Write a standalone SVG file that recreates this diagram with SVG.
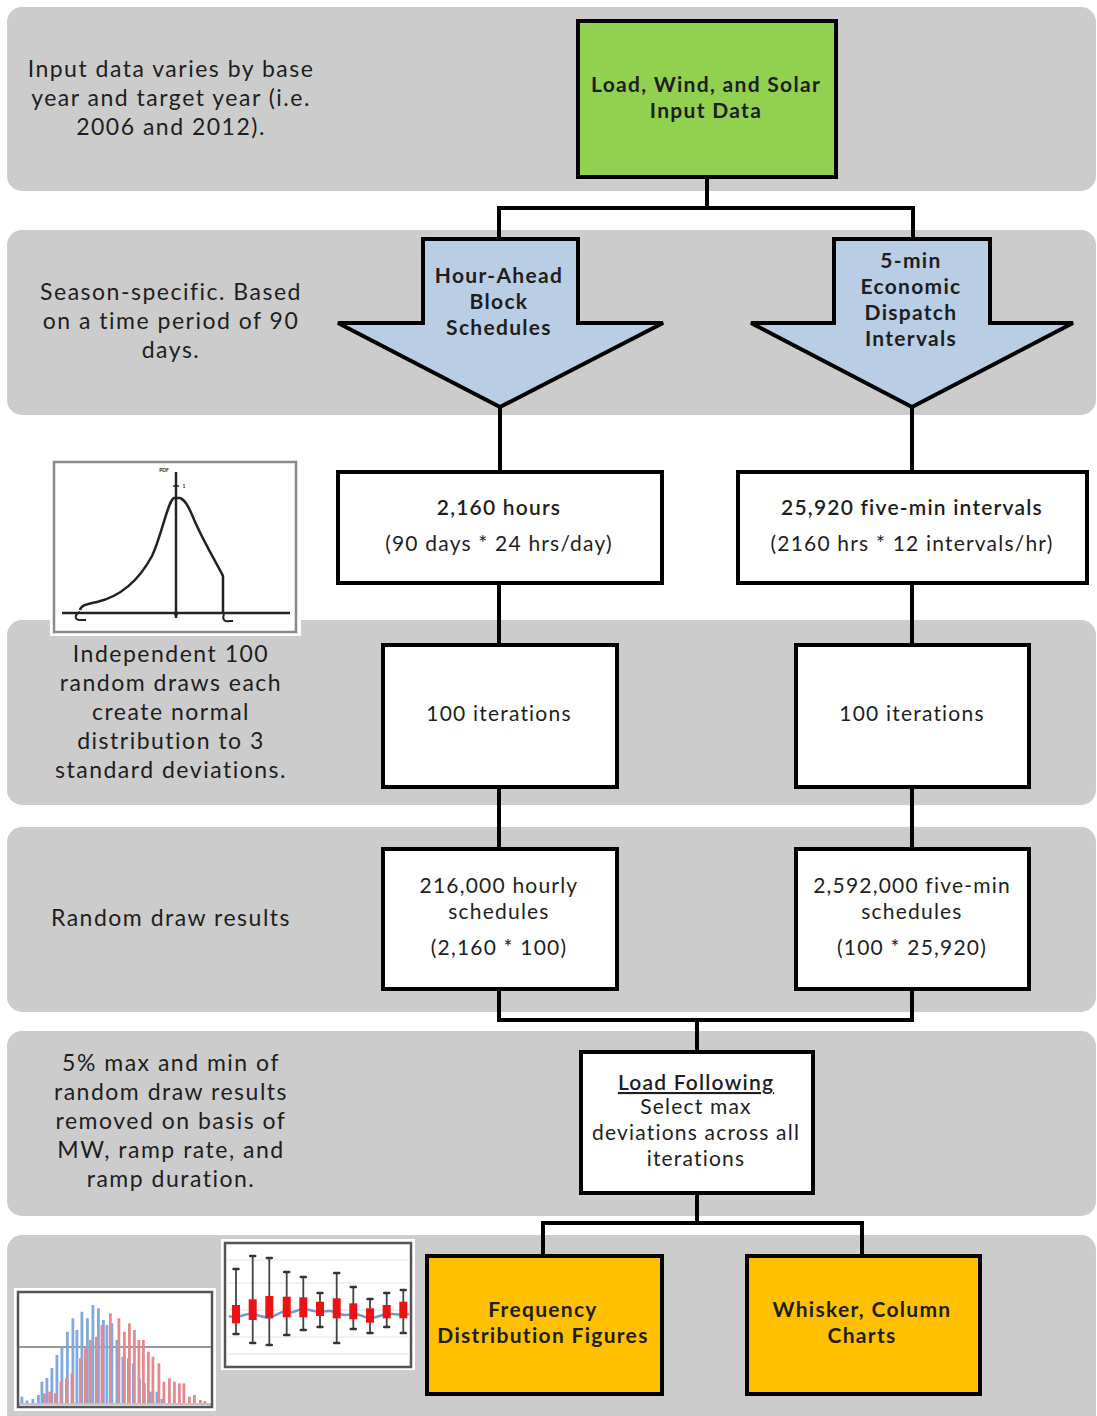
<svg xmlns="http://www.w3.org/2000/svg" width="1097" height="1416" viewBox="0 0 1097 1416">
<style>
.band{fill:#cccccc}
.box{stroke:#000;stroke-width:4;stroke-linejoin:miter}
.w{fill:#fff}
.g{fill:#92d050}
.o{fill:#ffc000}
.b{fill:#b9cde5}
.conn{fill:none;stroke:#000;stroke-width:4}
text{font-family:Lato,"Open Sans","Liberation Sans",sans-serif;fill:#1e1e1e;text-anchor:middle}
.side{font-size:23px;letter-spacing:1.5px}
.bt{font-size:21px;font-weight:bold;letter-spacing:1.3px}
.nt{font-size:21px;letter-spacing:1.2px}
.sb{font-size:21px;font-weight:600;letter-spacing:1.2px}
</style>
<rect width="1097" height="1416" fill="#fff"/>
<g id="bands">
<rect class="band" x="7" y="7" width="1089" height="184" rx="15"/>
<rect class="band" x="7" y="230" width="1089" height="185" rx="15"/>
<rect class="band" x="7" y="620" width="1089" height="185" rx="15"/>
<rect class="band" x="7" y="827" width="1089" height="185" rx="15"/>
<rect class="band" x="7" y="1031" width="1089" height="185" rx="15"/>
<rect class="band" x="7" y="1235" width="1089" height="200" rx="15"/>
</g>
<g id="side-notes">
<text class="side" x="171" y="77">Input data varies by base</text>
<text class="side" x="171" y="106">year and target year (i.e.</text>
<text class="side" x="171" y="135">2006 and 2012).</text>
<text class="side" x="171" y="300">Season-specific. Based</text>
<text class="side" x="171" y="329">on a time period of 90</text>
<text class="side" x="171" y="358">days.</text>
<text class="side" x="171" y="662">Independent 100</text>
<text class="side" x="171" y="691">random draws each</text>
<text class="side" x="171" y="720">create normal</text>
<text class="side" x="171" y="749">distribution to 3</text>
<text class="side" x="171" y="778">standard deviations.</text>
<text class="side" x="171" y="926">Random draw results</text>
<text class="side" x="171" y="1071">5% max and min of</text>
<text class="side" x="171" y="1100">random draw results</text>
<text class="side" x="171" y="1129">removed on basis of</text>
<text class="side" x="171" y="1158">MW, ramp rate, and</text>
<text class="side" x="171" y="1187">ramp duration.</text>
</g>
<g id="connectors">
<path class="conn" d="M707,177 V208 M497,208 H915 M499,206 V240 M913,206 V240"/>
<path class="conn" d="M500,405 V472 M912,405 V472"/>
<path class="conn" d="M499,583 V645 M912,583 V645"/>
<path class="conn" d="M499,787 V849 M912,787 V849"/>
<path class="conn" d="M499,989 V1020 H912 V989 M697,1020 V1052"/>
<path class="conn" d="M697,1193 V1223 M541,1223 H864 M543,1221 V1255 M862,1221 V1255"/>
</g>
<g id="input-data">
<rect class="box g" x="578" y="21" width="258" height="156"/>
<text class="bt" x="706" y="92">Load, Wind, and Solar</text>
<text class="bt" x="706" y="118">Input Data</text>
</g>
<g id="hour-ahead">
<polygon class="box b" points="423,239 578,239 578,323 663,323 500,407 338,323 423,323"/>
<text class="bt" x="499" y="283">Hour-Ahead</text>
<text class="bt" x="499" y="309">Block</text>
<text class="bt" x="499" y="335">Schedules</text>
</g>
<g id="five-min">
<polygon class="box b" points="834,239 990,239 990,323 1073,323 912,407 751,323 834,323"/>
<text class="bt" x="911" y="268">5-min</text>
<text class="bt" x="911" y="294">Economic</text>
<text class="bt" x="911" y="320">Dispatch</text>
<text class="bt" x="911" y="346">Intervals</text>
</g>
<g id="hours-box">
<rect class="box w" x="338" y="472" width="324" height="111"/>
<text class="sb" x="499" y="515">2,160 hours</text>
<text class="nt" x="499" y="551">(90 days *  24 hrs/day)</text>
</g>
<g id="intervals-box">
<rect class="box w" x="738" y="472" width="349" height="111"/>
<text class="sb" x="912" y="515">25,920 five-min intervals</text>
<text class="nt" x="912" y="551">(2160 hrs *  12 intervals/hr)</text>
</g>
<g id="iter-left">
<rect class="box w" x="383" y="645" width="234" height="142"/>
<text class="nt" x="499" y="721">100 iterations</text>
</g>
<g id="iter-right">
<rect class="box w" x="796" y="645" width="233" height="142"/>
<text class="nt" x="912" y="721">100 iterations</text>
</g>
<g id="hourly-results">
<rect class="box w" x="383" y="849" width="234" height="140"/>
<text class="nt" x="499" y="893">216,000 hourly</text>
<text class="nt" x="499" y="919">schedules</text>
<text class="nt" x="499" y="955">(2,160 * 100)</text>
</g>
<g id="fivemin-results">
<rect class="box w" x="796" y="849" width="233" height="140"/>
<text class="nt" x="912" y="893">2,592,000 five-min</text>
<text class="nt" x="912" y="919">schedules</text>
<text class="nt" x="912" y="955">(100 * 25,920)</text>
</g>
<g id="load-following">
<rect class="box w" x="581" y="1052" width="232" height="141"/>
<text class="sb" x="696" y="1090" text-decoration="underline">Load Following</text>
<text class="nt" x="696" y="1114">Select max</text>
<text class="nt" x="696" y="1140">deviations across all</text>
<text class="nt" x="696" y="1166">iterations</text>
</g>
<g id="freq-dist">
<rect class="box o" x="427" y="1256" width="235" height="138"/>
<text class="bt" x="543" y="1317">Frequency</text>
<text class="bt" x="543" y="1343">Distribution Figures</text>
</g>
<g id="whisker">
<rect class="box o" x="747" y="1256" width="233" height="138"/>
<text class="bt" x="862" y="1317">Whisker, Column</text>
<text class="bt" x="862" y="1343">Charts</text>
</g>
<g id="pdf-image">
<rect x="50" y="459" width="251" height="177" fill="#fff"/>
<rect x="54" y="462" width="242" height="170" fill="#fff" stroke="#8a8a8a" stroke-width="2.5"/>
<path d="M62,613 H290" stroke="#222" stroke-width="2.5" fill="none"/>
<path d="M176,472 V618" stroke="#222" stroke-width="2.5" fill="none"/>
<path d="M80,610 C81,605 88,604 97,602 C118,597 138,582 152,556 C162,535 168,500 174,498 L180,498 C186,500 190,510 196,524 C206,546 216,562 223,576 L223,613" stroke="#222" stroke-width="2.5" fill="none"/>
<path d="M80,612 C75,614 74,619 79,620 L86,620 M224,614 C222,619 224,622 229,621 L233,621" stroke="#222" stroke-width="2" fill="none"/>
<circle cx="176" cy="614" r="2" fill="#222"/>
<path d="M173,486 H179" stroke="#222" stroke-width="1.5"/>
<text x="164" y="472" style="font-size:5px;font-weight:bold">PDF</text>
<text x="184" y="488" style="font-size:5px;font-weight:bold">1</text>
</g>
<g id="histogram-image">
<rect x="14" y="1288" width="202" height="123" fill="#fff"/>
<rect x="18" y="1292" width="194" height="115" fill="#fff" stroke="#555" stroke-width="2.5"/>
<path d="M19,1347 H211" stroke="#777" stroke-width="1.5"/>
<g fill="#7fa9df">
<rect x="20.5" y="1396.7" width="2.8" height="6.3"/>
<rect x="25.5" y="1400.5" width="2.8" height="2.5"/>
<rect x="31.5" y="1399" width="2.8" height="4"/>
<rect x="37" y="1395" width="2.8" height="8"/>
<rect x="40.5" y="1381.7" width="2.8" height="21.3"/>
<rect x="45.5" y="1378" width="2.8" height="25"/>
<rect x="50.5" y="1368" width="2.8" height="35"/>
<rect x="55.5" y="1355" width="2.8" height="48"/>
<rect x="60.5" y="1346.7" width="2.8" height="56.3"/>
<rect x="66" y="1331.7" width="2.8" height="71.3"/>
<rect x="71.5" y="1318.3" width="2.8" height="84.7"/>
<rect x="75.5" y="1330" width="2.8" height="73"/>
<rect x="80.5" y="1311.7" width="2.8" height="91.3"/>
<rect x="86" y="1318.3" width="2.8" height="84.7"/>
<rect x="91.5" y="1305" width="2.8" height="98"/>
<rect x="97" y="1308.3" width="2.8" height="94.7"/>
<rect x="102" y="1320" width="2.8" height="83"/>
<rect x="105.5" y="1325" width="2.8" height="78"/>
<rect x="110.5" y="1323.3" width="2.8" height="79.7"/>
<rect x="115.5" y="1340" width="2.8" height="63"/>
<rect x="121.5" y="1356.7" width="2.8" height="46.3"/>
<rect x="127" y="1358.3" width="2.8" height="44.7"/>
<rect x="132" y="1363.3" width="2.8" height="39.7"/>
<rect x="138" y="1378.3" width="2.8" height="24.7"/>
<rect x="143" y="1383.3" width="2.8" height="19.7"/>
<rect x="149" y="1391.7" width="2.8" height="11.3"/>
<rect x="155.5" y="1391.7" width="2.8" height="11.3"/>
<rect x="160.5" y="1399" width="2.8" height="4"/>
</g>
<g fill="#e48a8c">
<rect x="43" y="1393.3" width="2.8" height="9.7"/>
<rect x="48.3" y="1391.7" width="2.8" height="11.3"/>
<rect x="54" y="1393.3" width="2.8" height="9.7"/>
<rect x="59.5" y="1381.7" width="2.8" height="21.3"/>
<rect x="65" y="1378.3" width="2.8" height="24.7"/>
<rect x="70.5" y="1373.3" width="2.8" height="29.7"/>
<rect x="79" y="1358.3" width="2.8" height="44.7"/>
<rect x="84" y="1348.3" width="2.8" height="54.7"/>
<rect x="89" y="1340" width="2.8" height="63"/>
<rect x="95" y="1336.7" width="2.8" height="66.3"/>
<rect x="100.5" y="1325" width="2.8" height="78"/>
<rect x="109" y="1313.3" width="2.8" height="89.7"/>
<rect x="117.5" y="1318.3" width="2.8" height="84.7"/>
<rect x="123" y="1331.7" width="2.8" height="71.3"/>
<rect x="128" y="1323.3" width="2.8" height="79.7"/>
<rect x="133" y="1330" width="2.8" height="73"/>
<rect x="137.5" y="1340" width="2.8" height="63"/>
<rect x="142" y="1340" width="2.8" height="63"/>
<rect x="147" y="1351.7" width="2.8" height="51.3"/>
<rect x="151.5" y="1356.7" width="2.8" height="46.3"/>
<rect x="157.5" y="1363.3" width="2.8" height="39.7"/>
<rect x="162.5" y="1381.7" width="2.8" height="21.3"/>
<rect x="168" y="1378.3" width="2.8" height="24.7"/>
<rect x="173" y="1381.7" width="2.8" height="21.3"/>
<rect x="178" y="1383.3" width="2.8" height="19.7"/>
<rect x="182.5" y="1383.3" width="2.8" height="19.7"/>
<rect x="188" y="1396.7" width="2.8" height="6.3"/>
<rect x="193" y="1395" width="2.8" height="8"/>
<rect x="199" y="1400" width="2.8" height="3"/>
<rect x="203.5" y="1401" width="2.8" height="2"/>
</g>
<path d="M19,1404 H211" stroke="#888" stroke-width="1"/>
</g>
<g id="whisker-image">
<rect x="221" y="1239" width="194" height="131" fill="#fff"/>
<rect x="225" y="1243" width="186" height="124" fill="#fff" stroke="#555" stroke-width="2.5"/>
<g stroke="#e2e2e2" stroke-width="1">
<path d="M226,1260 H410 M226,1283 H410 M226,1310 H410 M226,1337 H410 M226,1354 H410"/>
</g>
<path d="M229,1316 C240,1320 245,1312 253,1314 C262,1316 262,1318 270,1317 C278,1316 280,1310 287,1312 C295,1314 298,1308 304,1309 C312,1310 315,1312 320,1312 C328,1311 330,1310 337,1313 C345,1316 347,1315 353,1314 C360,1313 362,1318 370,1318 C377,1318 380,1315 387,1314 C394,1313 398,1316 409,1314" stroke="#6a9ccc" stroke-width="2.5" fill="none"/>
<g stroke="#444" stroke-width="1.8">
<path d="M236,1269 V1334 M252.7,1256 V1343 M269.3,1258 V1345 M286.7,1272 V1335 M303.3,1277 V1330 M320,1293 V1327 M336.7,1273 V1343 M353.3,1287 V1329 M370,1299 V1333 M386.7,1293 V1327 M403.3,1290 V1333"/>
</g>
<g stroke="#333" stroke-width="2.5" stroke-linecap="round">
<path d="M233.5,1269 h5 M233.5,1334 h5 M250.2,1256 h5 M250.2,1343 h5 M266.8,1258 h5 M266.8,1345 h5 M284.2,1272 h5 M284.2,1335 h5 M300.8,1277 h5 M300.8,1330 h5 M317.5,1293 h5 M317.5,1327 h5 M334.2,1273 h5 M334.2,1343 h5 M350.8,1287 h5 M350.8,1329 h5 M367.5,1299 h5 M367.5,1333 h5 M384.2,1293 h5 M384.2,1327 h5 M400.8,1290 h5 M400.8,1333 h5"/>
</g>
<g fill="#ee1111">
<rect x="232" y="1305" width="8" height="18.3"/>
<rect x="248.7" y="1299.3" width="8" height="20.7"/>
<rect x="265.3" y="1296" width="8" height="22.3"/>
<rect x="282.7" y="1296.7" width="8" height="20.6"/>
<rect x="299.3" y="1297.3" width="8" height="20"/>
<rect x="316" y="1301.7" width="8" height="14.3"/>
<rect x="332.7" y="1298.3" width="8" height="20"/>
<rect x="349.3" y="1303.3" width="8" height="16"/>
<rect x="366" y="1308.3" width="8" height="14.4"/>
<rect x="382.7" y="1305" width="8" height="13.3"/>
<rect x="399.3" y="1301.7" width="8" height="16.6"/>
</g>
</g>
</svg>
